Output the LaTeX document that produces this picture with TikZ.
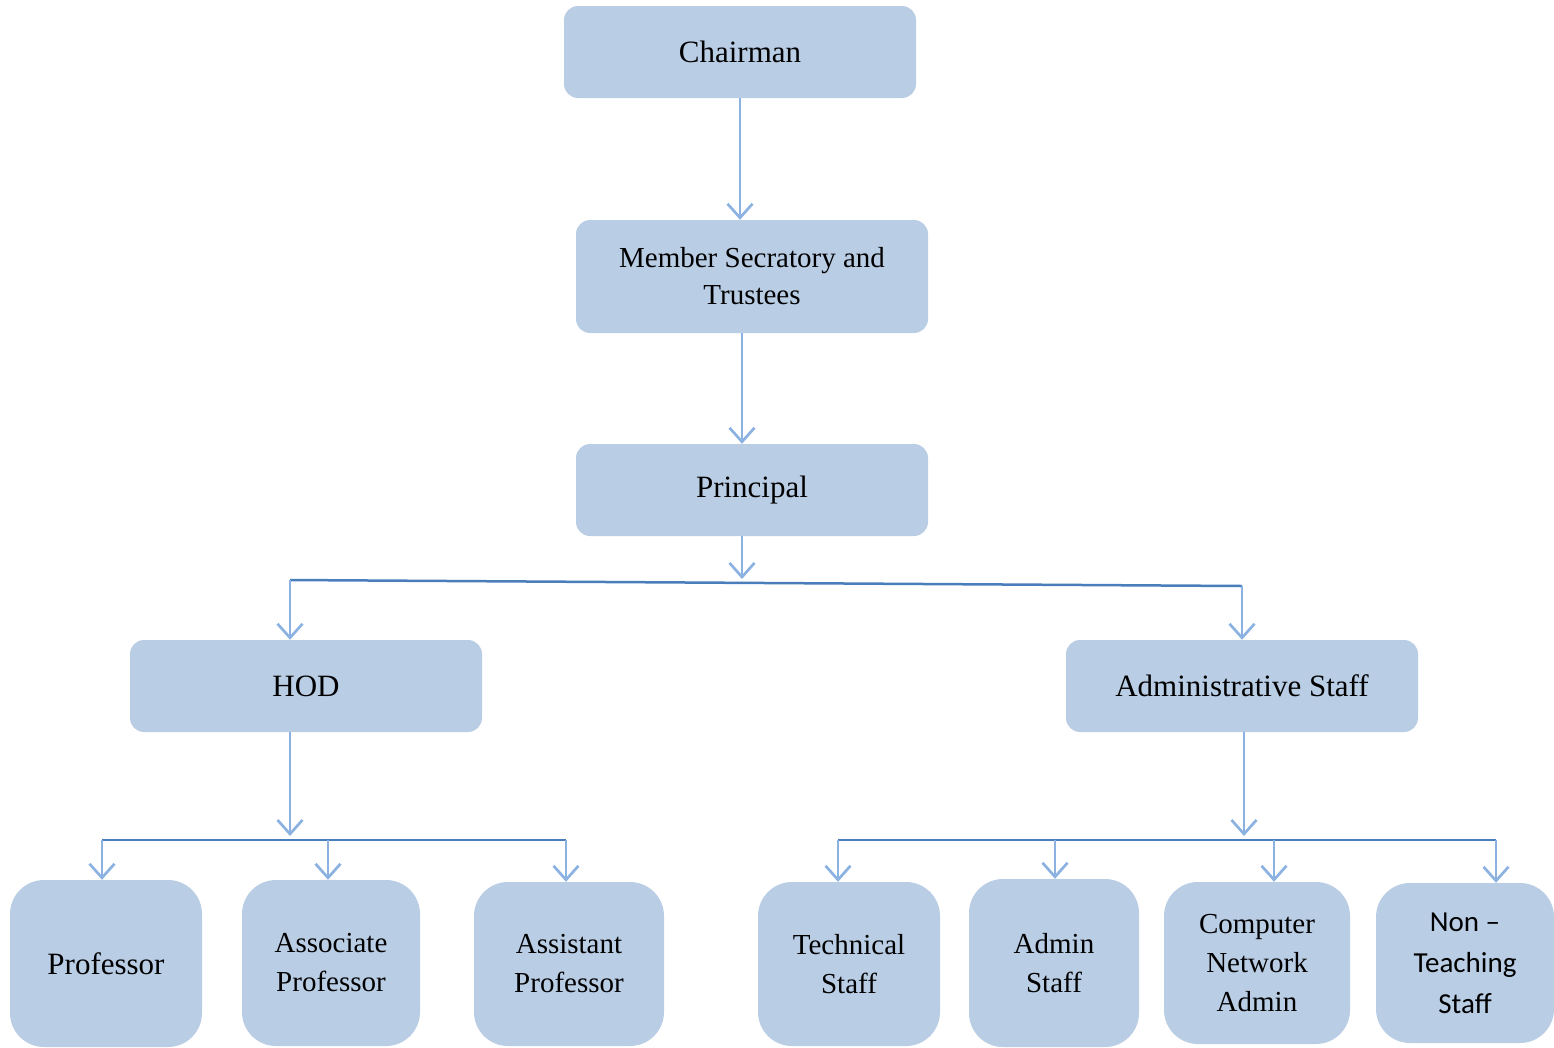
\documentclass[tikz,border=0pt]{standalone}
\usepackage{fontspec}
\setmainfont{Liberation Serif}
\newfontfamily\calib{Carlito}
\usetikzlibrary{arrows.meta}
\definecolor{boxfill}{HTML}{B9CDE5}
\definecolor{arrowc}{HTML}{8CB2E2}
\definecolor{barc}{HTML}{4A7EBB}
\tikzset{
  box/.style={fill=boxfill, rounded corners=14pt, inner sep=0pt, align=center,
    minimum width=352pt, minimum height=92pt, font=\fontsize{31}{37}\selectfont},
  leaf/.style={fill=boxfill, rounded corners=34pt, inner sep=0pt, align=center,
    font=\fontsize{29}{39}\selectfont},
  arr/.style={draw=arrowc, line width=2.7pt, -{Straight Barb[length=14pt,width=25pt]}},
  bar/.style={draw=barc, line width=2.5pt}
}
\begin{document}
\begin{tikzpicture}[x=1pt,y=-1pt]
\useasboundingbox (0,0) rectangle (1554,1047);
\clip (0,0) rectangle (1554,1047);
% top chain
\node[box] (chair) at (740,52) {Chairman};
\node[box, minimum height=113pt, font=\fontsize{29}{37}\selectfont] (member) at (752,276.5) {Member Secratory and\\Trustees};
\node[box] (principal) at (752,490) {Principal};
\node[box] (hod) at (306,686) {HOD};
\node[box] (adm) at (1242,686) {Administrative Staff};
% leaves
\node[leaf, minimum width=192pt, minimum height=167pt, font=\fontsize{31}{39}\selectfont] (prof) at (106,963.5) {Professor};
\node[leaf, minimum width=178pt, minimum height=166pt] (assoc) at (331,963) {Associate\\Professor};
\node[leaf, minimum width=190pt, minimum height=164pt] (assist) at (569,964) {Assistant\\Professor};
\node[leaf, minimum width=182pt, minimum height=164pt] (tech) at (849,964) {Technical\\Staff};
\node[leaf, minimum width=170pt, minimum height=168pt] (admin) at (1054,963) {Admin\\Staff};
\node[leaf, minimum width=186pt, minimum height=162pt] (cna) at (1257,963) {Computer\\Network\\Admin};
\node[leaf, minimum width=178pt, minimum height=160pt, font=\calib\fontsize{29}{41}\selectfont] (nts) at (1465,963) {Non –\\Teaching\\Staff};
% coordinates
\coordinate (pa) at (742,579);
\coordinate (bl) at (290,580);
\coordinate (br) at (1242,586);
\coordinate (hb) at (290,836);
\coordinate (l1) at (102,840);
\coordinate (l2) at (328,840);
\coordinate (l3) at (566,840);
\coordinate (ab) at (1244,836);
\coordinate (r1) at (838,840);
\coordinate (r2) at (1055,840);
\coordinate (r3) at (1274,840);
\coordinate (r4) at (1496,840);
% connectors
\draw[arr] (chair.south) -- (chair.south |- member.north);
\draw[arr] ([xshift=-10pt]member.south) -- ([xshift=-10pt]principal.north);
\draw[arr] ([xshift=-10pt]principal.south) -- (pa);
\draw[bar] (bl) -- (br);
\draw[arr] (bl) -- (bl |- hod.north);
\draw[arr] (br) -- (br |- adm.north);
\draw[arr] (hb |- hod.south) -- (hb);
\draw[bar] (l1) -- (l3);
\draw[arr] (l1) -- (l1 |- prof.north);
\draw[arr] (l2) -- (l2 |- assoc.north);
\draw[arr] (l3) -- (l3 |- assist.north);
\draw[arr] (ab |- adm.south) -- (ab);
\draw[bar] (r1) -- (r4);
\draw[arr] (r1) -- (r1 |- tech.north);
\draw[arr] (r2) -- (r2 |- admin.north);
\draw[arr] (r3) -- (r3 |- cna.north);
\draw[arr] (r4) -- (r4 |- nts.north);
\end{tikzpicture}
\end{document}
